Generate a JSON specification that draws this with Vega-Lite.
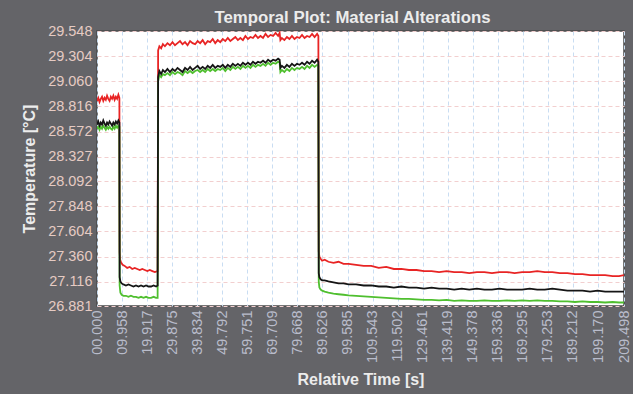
{
  "$schema": "https://vega.github.io/schema/vega-lite/v6.json",
  "autosize": {"type": "none"},
  "width": 527,
  "height": 275,
  "padding": {"left": 97, "top": 31, "right": 9, "bottom": 88},
  "background": "#646468",
  "title": {"text": "Temporal Plot: Material Alterations", "fontSize": 16.8, "font": "Liberation Sans", "fontWeight": "bold", "color": "#ececec", "anchor": "middle", "offset": -4, "dx": -8},
  "config": {
    "view": {"fill": "white", "stroke": "#4a4a4a", "strokeWidth": 1.5},
    "axis": {"labelFont": "Liberation Sans", "titleFont": "Liberation Sans", "labelFontSize": 14.5, "titleFontSize": 16, "titleFontWeight": "bold", "titleColor": "#ececec", "domain": false, "ticks": false, "gridDash": [4, 3], "gridWidth": 1}
  },
  "datasets": {
    "red": [
      {"t":0,"v":28.87},{"t":0.5,"v":28.90},{"t":1.0,"v":28.86},{"t":1.5,"v":28.89},{"t":2.0,"v":28.91},{"t":2.5,"v":28.87},{"t":3.0,"v":28.90},{"t":3.5,"v":28.88},{"t":4.0,"v":28.92},{"t":4.5,"v":28.89},{"t":5.0,"v":28.87},{"t":5.5,"v":28.91},{"t":6.0,"v":28.89},{"t":6.5,"v":28.92},{"t":7.0,"v":28.88},{"t":7.5,"v":28.91},{"t":8.0,"v":28.89},{"t":8.5,"v":28.93},{"t":8.9,"v":28.90},
      {"t":9.0,"v":27.40},{"t":9.2,"v":27.33},{"t":9.6,"v":27.30},{"t":10.2,"v":27.28},{"t":11.0,"v":27.27},{"t":12.0,"v":27.25},{"t":13.0,"v":27.26},{"t":14.0,"v":27.24},{"t":15.0,"v":27.25},{"t":16.0,"v":27.24},{"t":17.0,"v":27.23},{"t":18.0,"v":27.24},{"t":19.0,"v":27.23},{"t":20.0,"v":27.22},{"t":21.0,"v":27.23},{"t":22.0,"v":27.22},{"t":23.0,"v":27.21},{"t":24.1,"v":27.22},
      {"t":24.3,"v":29.36},{"t":24.8,"v":29.40},{"t":25.5,"v":29.38},{"t":26.2,"v":29.42},{"t":27,"v":29.40},{"t":28,"v":29.43},{"t":29,"v":29.41},{"t":30,"v":29.44},{"t":31,"v":29.41},{"t":32,"v":29.43},{"t":33,"v":29.45},{"t":34,"v":29.42},{"t":35,"v":29.44},{"t":36,"v":29.41},{"t":37,"v":29.45},{"t":38,"v":29.43},{"t":39,"v":29.42},{"t":40,"v":29.45},{"t":41,"v":29.43},{"t":42,"v":29.46},{"t":43,"v":29.42},{"t":44,"v":29.45},{"t":45,"v":29.44},{"t":46,"v":29.47},{"t":47,"v":29.43},{"t":48,"v":29.46},{"t":49,"v":29.44},{"t":50,"v":29.47},{"t":51,"v":29.45},{"t":52,"v":29.48},{"t":53,"v":29.45},{"t":54,"v":29.47},{"t":55,"v":29.49},{"t":56,"v":29.46},{"t":57,"v":29.48},{"t":58,"v":29.46},{"t":59,"v":29.50},{"t":60,"v":29.47},{"t":61,"v":29.49},{"t":62,"v":29.48},{"t":63,"v":29.51},{"t":64,"v":29.48},{"t":65,"v":29.50},{"t":66,"v":29.48},{"t":67,"v":29.52},{"t":68,"v":29.49},{"t":69,"v":29.51},{"t":70,"v":29.50},{"t":71,"v":29.53},{"t":72,"v":29.50},{"t":72.6,"v":29.53},{"t":72.9,"v":29.46},{"t":73.5,"v":29.48},{"t":74.5,"v":29.46},{"t":75.5,"v":29.49},{"t":76.5,"v":29.47},{"t":77.5,"v":29.50},{"t":78.5,"v":29.47},{"t":79.5,"v":29.49},{"t":80.5,"v":29.48},{"t":81.5,"v":29.51},{"t":82.5,"v":29.48},{"t":83.5,"v":29.50},{"t":84.5,"v":29.49},{"t":85.5,"v":29.52},{"t":86.5,"v":29.49},{"t":87.5,"v":29.52},{"t":88.0,"v":29.50},
      {"t":88.15,"v":27.41},{"t":88.4,"v":27.36},{"t":88.9,"v":27.34},{"t":89.5,"v":27.32},{"t":90.5,"v":27.33},{"t":92,"v":27.31},{"t":94,"v":27.30},{"t":96,"v":27.31},{"t":98,"v":27.29},{"t":100,"v":27.29},{"t":103,"v":27.28},{"t":106,"v":27.27},{"t":109,"v":27.27},{"t":112,"v":27.25},{"t":115,"v":27.26},{"t":118,"v":27.24},{"t":121,"v":27.24},{"t":124,"v":27.23},{"t":127,"v":27.23},{"t":130,"v":27.22},{"t":133,"v":27.22},{"t":136,"v":27.21},{"t":139,"v":27.22},{"t":142,"v":27.21},{"t":145,"v":27.21},{"t":148,"v":27.20},{"t":151,"v":27.21},{"t":154,"v":27.21},{"t":157,"v":27.20},{"t":160,"v":27.21},{"t":163,"v":27.21},{"t":166,"v":27.20},{"t":169,"v":27.21},{"t":172,"v":27.21},{"t":175,"v":27.22},{"t":178,"v":27.21},{"t":181,"v":27.21},{"t":184,"v":27.20},{"t":187,"v":27.20},{"t":190,"v":27.19},{"t":193,"v":27.19},{"t":196,"v":27.18},{"t":199,"v":27.18},{"t":202,"v":27.18},{"t":205,"v":27.17},{"t":207.5,"v":27.17},{"t":209.5,"v":27.18}
    ],
    "black": [
      {"t":0,"v":28.64},{"t":0.5,"v":28.67},{"t":1.0,"v":28.63},{"t":1.5,"v":28.66},{"t":2.0,"v":28.64},{"t":2.5,"v":28.68},{"t":3.0,"v":28.65},{"t":3.5,"v":28.63},{"t":4.0,"v":28.66},{"t":4.5,"v":28.64},{"t":5.0,"v":28.67},{"t":5.5,"v":28.65},{"t":6.0,"v":28.63},{"t":6.5,"v":28.66},{"t":7.0,"v":28.64},{"t":7.5,"v":28.67},{"t":8.0,"v":28.65},{"t":8.5,"v":28.68},{"t":8.9,"v":28.66},
      {"t":9.0,"v":27.16},{"t":9.3,"v":27.12},{"t":9.8,"v":27.10},{"t":10.5,"v":27.09},{"t":11.5,"v":27.08},{"t":12.5,"v":27.09},{"t":13.5,"v":27.08},{"t":14.5,"v":27.07},{"t":15.5,"v":27.08},{"t":16.5,"v":27.07},{"t":17.5,"v":27.08},{"t":18.5,"v":27.07},{"t":19.5,"v":27.08},{"t":20.5,"v":27.07},{"t":21.5,"v":27.07},{"t":22.5,"v":27.08},{"t":23.5,"v":27.07},{"t":24.1,"v":27.08},
      {"t":24.3,"v":29.10},{"t":24.8,"v":29.16},{"t":25.5,"v":29.13},{"t":26.2,"v":29.17},{"t":27,"v":29.15},{"t":28,"v":29.18},{"t":29,"v":29.15},{"t":30,"v":29.18},{"t":31,"v":29.16},{"t":32,"v":29.19},{"t":33,"v":29.17},{"t":34,"v":29.15},{"t":35,"v":29.19},{"t":36,"v":29.17},{"t":37,"v":29.20},{"t":38,"v":29.17},{"t":39,"v":29.19},{"t":40,"v":29.21},{"t":41,"v":29.18},{"t":42,"v":29.20},{"t":43,"v":29.18},{"t":44,"v":29.21},{"t":45,"v":29.19},{"t":46,"v":29.22},{"t":47,"v":29.19},{"t":48,"v":29.21},{"t":49,"v":29.20},{"t":50,"v":29.22},{"t":51,"v":29.19},{"t":52,"v":29.22},{"t":53,"v":29.20},{"t":54,"v":29.23},{"t":55,"v":29.21},{"t":56,"v":29.23},{"t":57,"v":29.21},{"t":58,"v":29.24},{"t":59,"v":29.22},{"t":60,"v":29.24},{"t":61,"v":29.22},{"t":62,"v":29.25},{"t":63,"v":29.23},{"t":64,"v":29.25},{"t":65,"v":29.24},{"t":66,"v":29.26},{"t":67,"v":29.24},{"t":68,"v":29.27},{"t":69,"v":29.25},{"t":70,"v":29.27},{"t":71,"v":29.26},{"t":72,"v":29.28},{"t":72.6,"v":29.27},{"t":72.9,"v":29.19},{"t":73.5,"v":29.21},{"t":74.5,"v":29.19},{"t":75.5,"v":29.22},{"t":76.5,"v":29.20},{"t":77.5,"v":29.23},{"t":78.5,"v":29.21},{"t":79.5,"v":29.23},{"t":80.5,"v":29.22},{"t":81.5,"v":29.24},{"t":82.5,"v":29.22},{"t":83.5,"v":29.25},{"t":84.5,"v":29.23},{"t":85.5,"v":29.26},{"t":86.5,"v":29.24},{"t":87.5,"v":29.27},{"t":88.0,"v":29.25},
      {"t":88.15,"v":27.20},{"t":88.4,"v":27.16},{"t":88.9,"v":27.14},{"t":89.5,"v":27.13},{"t":90.5,"v":27.13},{"t":92,"v":27.12},{"t":94,"v":27.11},{"t":96,"v":27.10},{"t":98,"v":27.10},{"t":100,"v":27.09},{"t":103,"v":27.09},{"t":106,"v":27.08},{"t":109,"v":27.08},{"t":112,"v":27.07},{"t":115,"v":27.07},{"t":118,"v":27.06},{"t":121,"v":27.07},{"t":124,"v":27.06},{"t":127,"v":27.06},{"t":130,"v":27.05},{"t":133,"v":27.06},{"t":136,"v":27.05},{"t":139,"v":27.05},{"t":142,"v":27.04},{"t":145,"v":27.05},{"t":148,"v":27.04},{"t":151,"v":27.05},{"t":154,"v":27.04},{"t":157,"v":27.04},{"t":160,"v":27.05},{"t":163,"v":27.04},{"t":166,"v":27.04},{"t":169,"v":27.04},{"t":172,"v":27.05},{"t":175,"v":27.04},{"t":178,"v":27.04},{"t":181,"v":27.05},{"t":184,"v":27.04},{"t":187,"v":27.03},{"t":190,"v":27.03},{"t":193,"v":27.03},{"t":196,"v":27.02},{"t":199,"v":27.03},{"t":202,"v":27.02},{"t":205,"v":27.02},{"t":207.5,"v":27.02},{"t":209.5,"v":27.02}
    ],
    "green": [
      {"t":0,"v":28.60},{"t":0.5,"v":28.62},{"t":1.0,"v":28.59},{"t":1.5,"v":28.62},{"t":2.0,"v":28.60},{"t":2.5,"v":28.63},{"t":3.0,"v":28.61},{"t":3.5,"v":28.59},{"t":4.0,"v":28.62},{"t":4.5,"v":28.60},{"t":5.0,"v":28.62},{"t":5.5,"v":28.60},{"t":6.0,"v":28.59},{"t":6.5,"v":28.62},{"t":7.0,"v":28.60},{"t":7.5,"v":28.63},{"t":8.0,"v":28.61},{"t":8.5,"v":28.63},{"t":8.9,"v":28.62},
      {"t":9.0,"v":27.08},{"t":9.3,"v":27.01},{"t":9.8,"v":26.99},{"t":10.5,"v":26.98},{"t":11.5,"v":26.98},{"t":12.5,"v":26.97},{"t":13.5,"v":26.98},{"t":14.5,"v":26.97},{"t":15.5,"v":26.97},{"t":16.5,"v":26.96},{"t":17.5,"v":26.97},{"t":18.5,"v":26.96},{"t":19.5,"v":26.97},{"t":20.5,"v":26.96},{"t":21.5,"v":26.96},{"t":22.5,"v":26.97},{"t":23.5,"v":26.96},{"t":24.1,"v":26.96},
      {"t":24.3,"v":29.06},{"t":24.8,"v":29.12},{"t":25.5,"v":29.10},{"t":26.2,"v":29.13},{"t":27,"v":29.12},{"t":28,"v":29.14},{"t":29,"v":29.12},{"t":30,"v":29.15},{"t":31,"v":29.13},{"t":32,"v":29.15},{"t":33,"v":29.14},{"t":34,"v":29.12},{"t":35,"v":29.16},{"t":36,"v":29.14},{"t":37,"v":29.16},{"t":38,"v":29.14},{"t":39,"v":29.16},{"t":40,"v":29.17},{"t":41,"v":29.15},{"t":42,"v":29.17},{"t":43,"v":29.15},{"t":44,"v":29.18},{"t":45,"v":29.16},{"t":46,"v":29.18},{"t":47,"v":29.16},{"t":48,"v":29.18},{"t":49,"v":29.17},{"t":50,"v":29.19},{"t":51,"v":29.16},{"t":52,"v":29.19},{"t":53,"v":29.17},{"t":54,"v":29.20},{"t":55,"v":29.18},{"t":56,"v":29.20},{"t":57,"v":29.18},{"t":58,"v":29.21},{"t":59,"v":29.19},{"t":60,"v":29.21},{"t":61,"v":29.19},{"t":62,"v":29.22},{"t":63,"v":29.20},{"t":64,"v":29.22},{"t":65,"v":29.21},{"t":66,"v":29.23},{"t":67,"v":29.21},{"t":68,"v":29.24},{"t":69,"v":29.22},{"t":70,"v":29.24},{"t":71,"v":29.23},{"t":72,"v":29.25},{"t":72.6,"v":29.24},{"t":72.9,"v":29.15},{"t":73.5,"v":29.17},{"t":74.5,"v":29.15},{"t":75.5,"v":29.18},{"t":76.5,"v":29.16},{"t":77.5,"v":29.19},{"t":78.5,"v":29.17},{"t":79.5,"v":29.19},{"t":80.5,"v":29.18},{"t":81.5,"v":29.20},{"t":82.5,"v":29.18},{"t":83.5,"v":29.21},{"t":84.5,"v":29.19},{"t":85.5,"v":29.22},{"t":86.5,"v":29.20},{"t":87.5,"v":29.22},{"t":88.0,"v":29.21},
      {"t":88.15,"v":27.12},{"t":88.4,"v":27.06},{"t":88.9,"v":27.04},{"t":89.5,"v":27.03},{"t":90.5,"v":27.02},{"t":92,"v":27.01},{"t":94,"v":27.00},{"t":96,"v":26.995},{"t":98,"v":26.99},{"t":100,"v":26.985},{"t":103,"v":26.98},{"t":106,"v":26.975},{"t":109,"v":26.97},{"t":112,"v":26.965},{"t":115,"v":26.96},{"t":118,"v":26.955},{"t":121,"v":26.95},{"t":124,"v":26.95},{"t":127,"v":26.945},{"t":130,"v":26.94},{"t":133,"v":26.94},{"t":136,"v":26.935},{"t":139,"v":26.94},{"t":142,"v":26.93},{"t":145,"v":26.935},{"t":148,"v":26.93},{"t":151,"v":26.93},{"t":154,"v":26.935},{"t":157,"v":26.93},{"t":160,"v":26.93},{"t":163,"v":26.935},{"t":166,"v":26.93},{"t":169,"v":26.935},{"t":172,"v":26.93},{"t":175,"v":26.935},{"t":178,"v":26.93},{"t":181,"v":26.93},{"t":184,"v":26.925},{"t":187,"v":26.925},{"t":190,"v":26.92},{"t":193,"v":26.925},{"t":196,"v":26.92},{"t":199,"v":26.92},{"t":202,"v":26.915},{"t":205,"v":26.92},{"t":207.5,"v":26.915},{"t":209.5,"v":26.915}
    ]
  },
  "encoding": {
    "x": {
      "field": "t", "type": "quantitative",
      "scale": {"domain": [0, 209.498], "nice": false, "zero": false},
      "axis": {
        "title": "Relative Time [s]",
        "values": [0, 9.958, 19.917, 29.875, 39.834, 49.792, 59.751, 69.709, 79.668, 89.626, 99.585, 109.543, 119.502, 129.461, 139.419, 149.378, 159.336, 169.295, 179.253, 189.212, 199.17, 209.498],
        "format": "06.3f",
        "labelAngle": -90,
        "labelColor": "#b9bccb",
        "labelPadding": 4,
        "labelOverlap": false,
        "labelFlush": false,
        "gridColor": "#c9ddf2",
        "titlePadding": 9
      }
    },
    "y": {
      "field": "v", "type": "quantitative",
      "scale": {"domain": [26.881, 29.548], "nice": false, "zero": false},
      "axis": {
        "title": "Temperature [°C]",
        "values": [26.881, 27.116, 27.36, 27.604, 27.848, 28.092, 28.327, 28.572, 28.816, 29.06, 29.304, 29.548],
        "format": ".3f",
        "labelColor": "#e6cbc3",
        "labelPadding": 5,
        "labelOverlap": false,
        "labelFlush": false,
        "gridColor": "#f2cfcf",
        "titlePadding": 10
      }
    }
  },
  "layer": [
    {"data": {"name": "red"}, "mark": {"type": "line", "color": "#e82424", "strokeWidth": 1.8, "clip": true}},
    {"data": {"name": "green"}, "mark": {"type": "line", "color": "#4fbf2f", "strokeWidth": 1.8, "clip": true}},
    {"data": {"name": "black"}, "mark": {"type": "line", "color": "#151515", "strokeWidth": 1.8, "clip": true}}
  ]
}
